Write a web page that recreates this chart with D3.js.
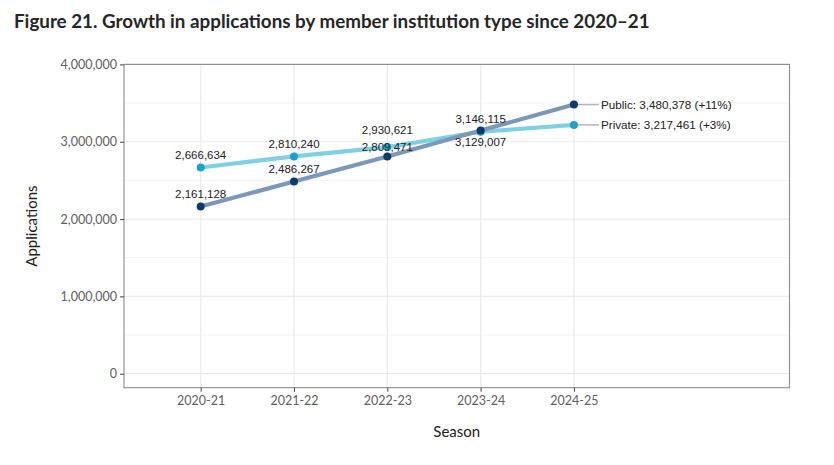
<!DOCTYPE html>
<html><head><meta charset="utf-8">
<script src="https://cdn.jsdelivr.net/npm/d3@7"></script>
<style>
body{margin:0;background:#fff;}
svg{display:block;}
</style></head>
<body>
<svg id="chart" width="834" height="465"></svg>
<script>
// ---- data ----
const seasons = ["2020-21","2021-22","2022-23","2023-24","2024-25"];
const publicValues = [2161128, 2486267, 2809471, 3146115, 3480378];
const privateValues = [2666634, 2810240, 2930621, 3129007, 3217461];
const seriesNames = ["Public","Private"];
const endChange = ["+11%","+3%"];
const yTicks = [0, 1000000, 2000000, 3000000, 4000000];
const yMinorTicks = [500000, 1500000, 2500000, 3500000];

// label vertical offsets (px, negative = above point)
const publicLabelDy = [-12.5, -12, -9.5, -11, 0];
const privateLabelDy = [-12.5, -12.5, -17, 10.5, 0];

const svg = d3.select("#chart");
const panel = {left:124, right:789.5, top:64.4, bottom:387.7};

const x = d3.scaleLinear().domain([-0.822, 6.31]).range([panel.left, panel.right]);
const y = d3.scaleLinear().domain([-181000, 4000000]).range([panel.bottom, panel.top]);

// title
svg.append("text")
  .attr("x", 14).attr("y", 28)
  .attr("font-family", "Lato, 'Open Sans', sans-serif")
  .attr("font-weight", 700).attr("font-size", 18.8)
  .attr("fill", "#262626")
  .text("Figure 21. Growth in applications by member institution type since 2020\u201321");

// grid
const g = svg.append("g");
g.selectAll(".ymin").data(yMinorTicks).enter().append("line")
  .attr("x1", panel.left).attr("x2", panel.right)
  .attr("y1", d=>y(d)).attr("y2", d=>y(d))
  .attr("stroke", "#f2f2f2").attr("stroke-width", 1);
g.selectAll(".ymaj").data(yTicks).enter().append("line")
  .attr("x1", panel.left).attr("x2", panel.right)
  .attr("y1", d=>y(d)).attr("y2", d=>y(d))
  .attr("stroke", "#ebebeb").attr("stroke-width", 1.2);
g.selectAll(".xmaj").data(seasons).enter().append("line")
  .attr("x1", (d,i)=>x(i)).attr("x2", (d,i)=>x(i))
  .attr("y1", panel.top).attr("y2", panel.bottom)
  .attr("stroke", "#ebebeb").attr("stroke-width", 1.2);

// panel border
svg.append("rect")
  .attr("x", panel.left).attr("y", panel.top)
  .attr("width", panel.right-panel.left).attr("height", panel.bottom-panel.top)
  .attr("fill", "none").attr("stroke", "#8c8c8c").attr("stroke-width", 1.1);

// axes
const yAxis = d3.axisLeft(y).tickValues(yTicks).tickSize(4).tickPadding(3)
  .tickFormat(d3.format(","));
const ya = svg.append("g").attr("transform", `translate(${panel.left},0)`).call(yAxis);
ya.select(".domain").remove();
ya.selectAll(".tick line").attr("stroke", "#444");
ya.selectAll(".tick text").attr("fill", "#606060")
  .attr("font-family", "Lato, sans-serif").attr("font-size", 12.5);

const xAxis = d3.axisBottom(x).tickValues(d3.range(seasons.length)).tickSize(4).tickPadding(4)
  .tickFormat(i=>seasons[i]);
const xa = svg.append("g").attr("transform", `translate(0,${panel.bottom})`).call(xAxis);
xa.select(".domain").remove();
xa.selectAll(".tick line").attr("stroke", "#444");
xa.selectAll(".tick text").attr("fill", "#606060")
  .attr("font-family", "Lato, sans-serif").attr("font-size", 12.5);

// axis titles
svg.append("text")
  .attr("transform", `translate(37,${(panel.top+panel.bottom)/2}) rotate(-90)`)
  .attr("text-anchor", "middle")
  .attr("font-family", "Lato, sans-serif").attr("font-size", 15)
  .attr("fill", "#222").text("Applications");
svg.append("text")
  .attr("x", (panel.left+panel.right)/2).attr("y", 437)
  .attr("text-anchor", "middle")
  .attr("font-family", "Lato, sans-serif").attr("font-size", 15)
  .attr("fill", "#222").text("Season");

// series
const series = [
  {name: seriesNames[1], values: privateValues, line: "#7fcfe7", point: "#1ca2c9", dy: privateLabelDy, change: endChange[1]},
  {name: seriesNames[0], values: publicValues, line: "#7b98b8", point: "#0b3b6e", dy: publicLabelDy, change: endChange[0]}
];
const lineGen = d3.line().x((d,i)=>x(i)).y(d=>y(d));

series.forEach(s=>{
  svg.append("path").datum(s.values)
    .attr("d", lineGen).attr("fill", "none")
    .attr("stroke", s.line).attr("stroke-width", 4.2)
    .attr("stroke-linecap", "butt");
});
// connectors to end labels
series.forEach(s=>{
  const n = s.values.length-1;
  svg.append("line")
    .attr("x1", x(n)).attr("x2", x(n)+25)
    .attr("y1", y(s.values[n])).attr("y2", y(s.values[n]))
    .attr("stroke", "#b5b5b5").attr("stroke-width", 1.5);
});
series.forEach(s=>{
  svg.append("g").selectAll("circle").data(s.values).enter().append("circle")
    .attr("cx", (d,i)=>x(i)).attr("cy", d=>y(d)).attr("r", 4)
    .attr("fill", s.point);
});
// value labels
const fmt = d3.format(",");
series.forEach(s=>{
  const n = s.values.length-1;
  svg.append("g").selectAll("text").data(s.values.slice(0,n)).enter().append("text")
    .attr("x", (d,i)=>x(i)).attr("y", (d,i)=>y(d)+s.dy[i])
    .attr("dy", "0.35em")
    .attr("text-anchor", "middle")
    .attr("font-family", "'Liberation Sans', Arial, sans-serif").attr("font-size", 11.5)
    .attr("fill", "#222").text(d=>fmt(d));
  svg.append("text")
    .attr("x", x(n)+27).attr("y", y(s.values[n])).attr("dy", "0.35em")
    .attr("font-family", "'Liberation Sans', Arial, sans-serif").attr("font-size", 11.7)
    .attr("fill", "#222")
    .text(`${s.name}: ${fmt(s.values[n])} (${s.change})`);
});
</script>
</body></html>
